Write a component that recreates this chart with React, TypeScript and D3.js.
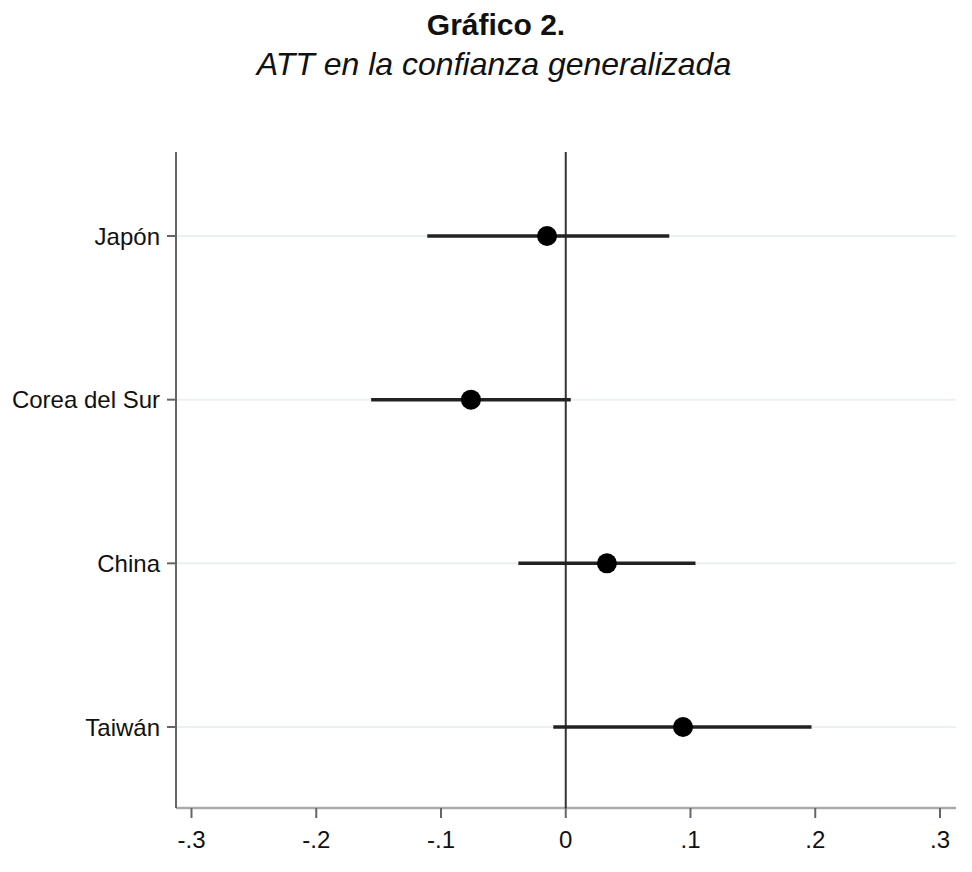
import React, { useRef, useEffect } from 'react';
import * as d3 from 'd3';

// estimates
const countries = ['Japón', 'Corea del Sur', 'China', 'Taiwán'];
const att = [-0.015, -0.076, 0.033, 0.094];
const ciLow = [-0.111, -0.156, -0.038, -0.01];
const ciHigh = [0.083, 0.004, 0.104, 0.197];
const xTicks = [-0.3, -0.2, -0.1, 0, 0.1, 0.2, 0.3];

const W = 972;
const H = 872;

// Stata style: "-.3", "0", ".1"
const fmt = (v: number) => {
    if (v === 0) return '0';
    const s = Math.abs(v).toFixed(1).replace('0.', '.');
    return v < 0 ? '-' + s : s;
};

const App: React.FC = () => {
    const svgRef = useRef<SVGSVGElement | null>(null);

    useEffect(() => {
        if (!svgRef.current) return;
        const svg = d3.select(svgRef.current);
        svg.selectAll('*').remove();

        const plot = { left: 176, right: 956, top: 152, bottom: 808 };
        const font = '"Liberation Sans", Arial, sans-serif';

        const x = d3.scaleLinear().domain([-0.3, 0.3]).range([191.5, 940]);
        const y = d3.scalePoint<string>().domain(countries).range([236, 727]);

        // titles
        svg.append('text')
            .attr('x', 496)
            .attr('y', 35)
            .attr('text-anchor', 'middle')
            .attr('font-family', font)
            .attr('font-weight', 'bold')
            .attr('font-size', 30)
            .attr('fill', '#111')
            .text('Gráfico 2.');
        svg.append('text')
            .attr('x', 494)
            .attr('y', 75)
            .attr('text-anchor', 'middle')
            .attr('font-family', font)
            .attr('font-style', 'italic')
            .attr('font-size', 32)
            .attr('fill', '#111')
            .text('ATT en la confianza generalizada');

        // gridlines
        svg.append('g')
            .selectAll('line')
            .data(countries)
            .enter()
            .append('line')
            .attr('x1', plot.left)
            .attr('x2', plot.right)
            .attr('y1', (d) => y(d)!)
            .attr('y2', (d) => y(d)!)
            .attr('stroke', '#eaf1f2')
            .attr('stroke-width', 2);

        // x axis
        const xAxis = svg.append('g');
        xAxis.append('line')
            .attr('x1', plot.left)
            .attr('x2', plot.right)
            .attr('y1', plot.bottom)
            .attr('y2', plot.bottom)
            .attr('stroke', '#aaa')
            .attr('stroke-width', 2.5);
        const xt = xAxis.selectAll('.xt')
            .data(xTicks)
            .enter()
            .append('g')
            .attr('class', 'xt');
        xt.append('line')
            .attr('x1', (d) => x(d))
            .attr('x2', (d) => x(d))
            .attr('y1', plot.bottom)
            .attr('y2', plot.bottom + 10)
            .attr('stroke', '#666')
            .attr('stroke-width', 2);
        xt.append('text')
            .attr('x', (d) => x(d))
            .attr('y', plot.bottom + 40)
            .attr('text-anchor', 'middle')
            .attr('font-family', font)
            .attr('font-size', 24)
            .attr('fill', '#111')
            .text((d) => fmt(d));

        // y axis
        const yAxis = svg.append('g');
        yAxis.append('line')
            .attr('x1', plot.left)
            .attr('x2', plot.left)
            .attr('y1', plot.top)
            .attr('y2', plot.bottom)
            .attr('stroke', '#666')
            .attr('stroke-width', 2);
        const yt = yAxis.selectAll('.yt')
            .data(countries)
            .enter()
            .append('g')
            .attr('class', 'yt');
        yt.append('line')
            .attr('x1', plot.left - 9)
            .attr('x2', plot.left)
            .attr('y1', (d) => y(d)!)
            .attr('y2', (d) => y(d)!)
            .attr('stroke', '#666')
            .attr('stroke-width', 2);
        yt.append('text')
            .attr('x', plot.left - 16)
            .attr('y', (d) => y(d)!)
            .attr('dy', '0.36em')
            .attr('text-anchor', 'end')
            .attr('font-family', font)
            .attr('font-size', 24)
            .attr('fill', '#111')
            .text((d) => d);

        // zero reference line
        svg.append('line')
            .attr('x1', x(0))
            .attr('x2', x(0))
            .attr('y1', plot.top)
            .attr('y2', plot.bottom)
            .attr('stroke', '#333')
            .attr('stroke-width', 2);

        // confidence intervals and estimates
        const rows = countries.map((c, i) => ({
            name: c,
            est: att[i],
            lo: ciLow[i],
            hi: ciHigh[i],
        }));
        const marks = svg.append('g')
            .selectAll('.row')
            .data(rows)
            .enter()
            .append('g')
            .attr('class', 'row');
        marks.append('line')
            .attr('x1', (d) => x(d.lo))
            .attr('x2', (d) => x(d.hi))
            .attr('y1', (d) => y(d.name)!)
            .attr('y2', (d) => y(d.name)!)
            .attr('stroke', '#222')
            .attr('stroke-width', 3.5);
        marks.append('circle')
            .attr('cx', (d) => x(d.est))
            .attr('cy', (d) => y(d.name)!)
            .attr('r', 10)
            .attr('fill', '#000');
    }, []);

    return (
        <div style={{ position: 'absolute', left: 0, top: 0, background: '#fff' }}>
            <svg ref={svgRef} width={W} height={H} viewBox={`0 0 ${W} ${H}`} />
        </div>
    );
};

export default App;
